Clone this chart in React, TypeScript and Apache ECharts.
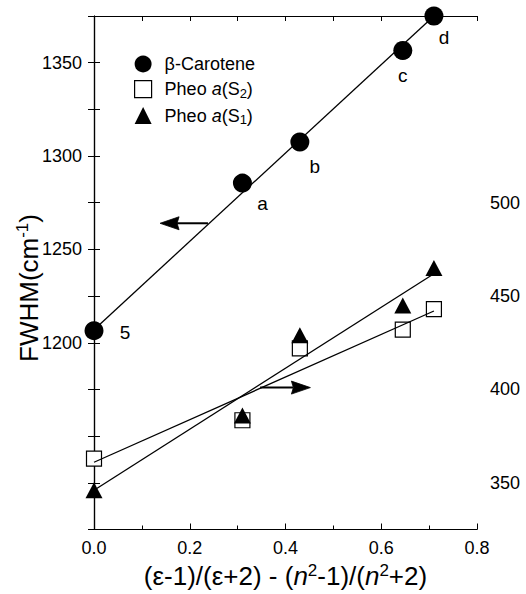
import React, { useEffect, useRef } from "react";
import * as echarts from "echarts";

// ---- data ----
const xCarotene = [0, 0.31, 0.43, 0.645, 0.71];
const yCarotene = [1206.5, 1285.5, 1307.5, 1356.5, 1375];
const caroteneLabels = ["5", "a", "b", "c", "d"];

const xPheo = [0, 0.31, 0.43, 0.645, 0.71];
const yPheoS2 = [363, 383.5, 422, 432, 443];
const yPheoS1 = [346, 386, 429, 445, 465];

const fitX = [0, 0.71];
const fitCarotene = [1207, 1375];
const fitPheoS2 = [361, 442];
const fitPheoS1 = [346, 462];

// arrows: [tail x, tip x] at a fixed y, on the left (FWHM) and right axes
const arrowLeftX = [0.238, 0.138];
const arrowLeftY = 1264;
const arrowRightX = [0.347, 0.452];
const arrowRightY = 401;

const xTickValues = [0, 0.2, 0.4, 0.6, 0.8];
const leftTickLabels = [1200, 1250, 1300, 1350];
const rightTickLabels = [350, 400, 450, 500];

const FONT = "'Liberation Sans', Arial, Helvetica, sans-serif";

export default function App() {
  const ref = useRef<HTMLDivElement>(null);

  useEffect(() => {
    if (!ref.current) return;
    const chart = echarts.init(ref.current, null, { renderer: "svg" });

    const labelOffsets = [
      [31, 2],
      [20, 20],
      [15, 24],
      [0, 25],
      [10, 21],
    ];

    const legendRich = {
      n: { fontSize: 18, fontFamily: FONT, color: "#000" },
      i: { fontSize: 18, fontFamily: FONT, fontStyle: "italic", color: "#000" },
      sub: { fontSize: 13, fontFamily: FONT, color: "#000", padding: [8, 0, 0, 0] },
    };

    const yTitle = {
      type: "text",
      id: "ytitle",
      x: 29,
      y: 288,
      rotation: Math.PI / 2,
      style: {
        text: "{a|FWHM(cm}{s|-1}{a|)}",
        align: "center",
        verticalAlign: "middle",
        rich: {
          a: { fontSize: 26, fontFamily: FONT, fill: "#000", color: "#000" },
          s: { fontSize: 17, fontFamily: FONT, fill: "#000", color: "#000", padding: [0, 0, 13, 0] },
        },
      },
    };

    const option: any = {
      animation: false,
      backgroundColor: "#fff",
      color: ["#000"],
      textStyle: { fontFamily: FONT, color: "#000" },
      grid: { left: 94, right: 49, top: 16, bottom: 61, containLabel: false },
      legend: {
        orient: "vertical",
        left: 129,
        top: 50,
        itemWidth: 17,
        itemHeight: 17,
        itemGap: 7,
        selectedMode: false,
        data: [
          { name: "β-Carotene", icon: "circle", itemStyle: { color: "#000", opacity: 1 } },
          {
            name: "Pheo a(S2)",
            icon: "rect",
            itemStyle: { color: "#fff", borderColor: "#000", borderWidth: 1.2, opacity: 1 },
          },
          { name: "Pheo a(S1)", icon: "triangle", itemStyle: { color: "#000", opacity: 1 } },
        ],
        formatter: (name: string) => {
          if (name === "Pheo a(S2)") return "{n|Pheo }{i|a}{n|(S}{sub|2}{n|)}";
          if (name === "Pheo a(S1)") return "{n|Pheo }{i|a}{n|(S}{sub|1}{n|)}";
          return "{n|" + name + "}";
        },
        textStyle: { fontSize: 18, color: "#000", padding: [0, 0, 0, 8], rich: legendRich },
      },
      xAxis: [
        {
          type: "value",
          position: "bottom",
          min: 0,
          max: 0.8,
          interval: 0.2,
          name: "{t|(ε-1)/(ε+2) - (}{it|n}{sup|2}{t|-1)/(}{it|n}{sup|2}{t|+2)}",
          nameLocation: "middle",
          nameGap: 32,
          nameTextStyle: {
            rich: {
              t: { fontSize: 26, fontFamily: FONT, color: "#000" },
              it: { fontSize: 26, fontFamily: FONT, fontStyle: "italic", color: "#000" },
              sup: { fontSize: 17, fontFamily: FONT, color: "#000", padding: [0, 0, 12, 0] },
            },
          },
          axisLine: { show: true, lineStyle: { color: "#000", width: 1.2 } },
          axisTick: { show: true, inside: true, length: 6, lineStyle: { color: "#000" } },
          minorTick: { show: true, splitNumber: 2, length: 4, lineStyle: { color: "#000" } },
          splitLine: { show: false },
          minorSplitLine: { show: false },
          axisLabel: {
            fontSize: 18,
            color: "#000",
            margin: 9,
            formatter: (v: number) =>
              xTickValues.some((t) => Math.abs(t - v) < 1e-6) ? v.toFixed(1) : "",
          },
        },
        {
          type: "value",
          position: "top",
          min: 0,
          max: 0.8,
          interval: 0.1,
          axisLine: { show: true, lineStyle: { color: "#000", width: 1.2 } },
          axisTick: { show: true, inside: true, length: 5, lineStyle: { color: "#000" } },
          axisLabel: { show: false },
          splitLine: { show: false },
        },
      ],
      yAxis: [
        {
          type: "value",
          position: "left",
          min: 1100,
          max: 1375,
          interval: 25,
          axisLine: { show: true, lineStyle: { color: "#000", width: 1.2 } },
          axisTick: { show: true, inside: true, length: 6, lineStyle: { color: "#000" } },
          splitLine: { show: false },
          axisLabel: {
            fontSize: 18,
            color: "#000",
            margin: 12,
            formatter: (v: number) => (leftTickLabels.includes(v) ? String(v) : ""),
          },
        },
        {
          type: "value",
          position: "right",
          min: 325,
          max: 600,
          interval: 25,
          axisLine: { show: true, lineStyle: { color: "#000", width: 1.2 } },
          axisTick: { show: true, inside: true, length: 6, lineStyle: { color: "#000" } },
          splitLine: { show: false },
          axisLabel: {
            fontSize: 18,
            color: "#000",
            margin: 13,
            formatter: (v: number) => (rightTickLabels.includes(v) ? String(v) : ""),
          },
        },
      ],
      graphic: [yTitle],
      series: [
        {
          name: "fit-carotene",
          type: "line",
          xAxisIndex: 0,
          yAxisIndex: 0,
          data: fitX.map((x, i) => [x, fitCarotene[i]]),
          showSymbol: false,
          symbol: "none",
          silent: true,
          clip: false,
          itemStyle: { color: "#000" },
          lineStyle: { color: "#000", width: 1.3 },
        },
        {
          name: "fit-s2",
          type: "line",
          xAxisIndex: 0,
          yAxisIndex: 1,
          data: fitX.map((x, i) => [x, fitPheoS2[i]]),
          showSymbol: false,
          symbol: "none",
          silent: true,
          itemStyle: { color: "#000" },
          lineStyle: { color: "#000", width: 1.3 },
        },
        {
          name: "fit-s1",
          type: "line",
          xAxisIndex: 0,
          yAxisIndex: 1,
          data: fitX.map((x, i) => [x, fitPheoS1[i]]),
          showSymbol: false,
          symbol: "none",
          silent: true,
          itemStyle: { color: "#000" },
          lineStyle: { color: "#000", width: 1.3 },
        },
        {
          name: "Pheo a(S2)",
          type: "scatter",
          xAxisIndex: 0,
          yAxisIndex: 1,
          symbol: "rect",
          symbolSize: 15,
          clip: false,
          itemStyle: { color: "#fff", borderColor: "#000", borderWidth: 1.2, opacity: 1 },
          data: xPheo.map((x, i) => [x, yPheoS2[i]]),
        },
        {
          name: "Pheo a(S1)",
          type: "scatter",
          xAxisIndex: 0,
          yAxisIndex: 1,
          symbol: "triangle",
          symbolSize: [17, 16],
          clip: false,
          itemStyle: { color: "#000", opacity: 1 },
          data: xPheo.map((x, i) => [x, yPheoS1[i]]),
        },
        {
          name: "β-Carotene",
          type: "scatter",
          xAxisIndex: 0,
          yAxisIndex: 0,
          symbol: "circle",
          symbolSize: 19,
          clip: false,
          itemStyle: { color: "#000", opacity: 1 },
          data: xCarotene.map((x, i) => ({
            value: [x, yCarotene[i]],
            label: {
              show: true,
              formatter: caroteneLabels[i],
              position: "inside",
              offset: labelOffsets[i],
              fontSize: 19,
              color: "#000",
              fontFamily: FONT,
            },
          })),
        },
      ],
    };

    chart.setOption(option);

    // arrows, placed through the axes' own scales
    const HEAD_LEN = 19;
    const HEAD_HALF = 6.5;
    const makeArrow = (xs: number[], y: number, yAxisIndex: number, id: string) => {
      const tail = chart.convertToPixel({ xAxisIndex: 0, yAxisIndex }, [xs[0], y]) as number[];
      const tip = chart.convertToPixel({ xAxisIndex: 0, yAxisIndex }, [xs[1], y]) as number[];
      const dir = Math.sign(tip[0] - tail[0]);
      const baseX = tip[0] - dir * HEAD_LEN;
      const notchX = tip[0] - dir * (HEAD_LEN - 2);
      return [
        {
          type: "line",
          id: id + "-shaft",
          silent: true,
          shape: { x1: tail[0], y1: tail[1], x2: notchX, y2: tip[1] },
          style: { stroke: "#000", lineWidth: 2 },
        },
        {
          type: "polygon",
          id: id + "-head",
          silent: true,
          shape: {
            points: [
              [tip[0], tip[1]],
              [baseX, tip[1] - HEAD_HALF],
              [notchX, tip[1]],
              [baseX, tip[1] + HEAD_HALF],
            ],
          },
          style: { fill: "#000", stroke: "#000", lineWidth: 0.8 },
        },
      ];
    };

    chart.setOption({
      graphic: [
        yTitle,
        ...makeArrow(arrowLeftX, arrowLeftY, 0, "arrowL"),
        ...makeArrow(arrowRightX, arrowRightY, 1, "arrowR"),
      ],
    });

    return () => chart.dispose();
  }, []);

  return (
    <div
      ref={ref}
      style={{ position: "fixed", left: 0, top: 0, width: 526, height: 594, background: "#fff" }}
    />
  );
}
